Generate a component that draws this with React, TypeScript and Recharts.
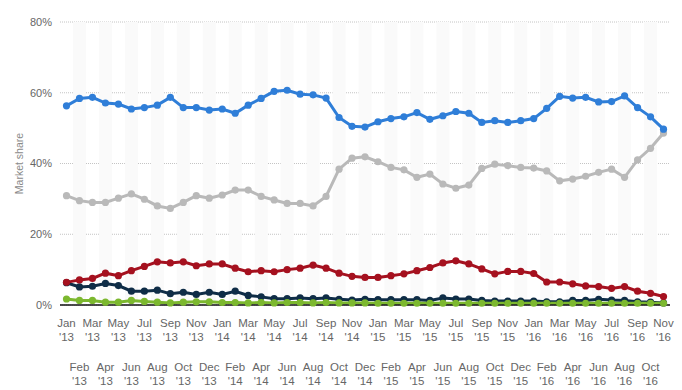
import React from "react";
import {
  ComposedChart,
  Line,
  Bar,
  XAxis,
  YAxis,
  CartesianGrid,
} from "recharts";

// Monate Jan '13 bis Nov '16
const MONATE = [
  "Jan '13", "Feb '13", "Mar '13", "Apr '13", "May '13", "Jun '13", "Jul '13", "Aug '13", "Sep '13", "Oct '13", "Nov '13", "Dec '13",
  "Jan '14", "Feb '14", "Mar '14", "Apr '14", "May '14", "Jun '14", "Jul '14", "Aug '14", "Sep '14", "Oct '14", "Nov '14", "Dec '14",
  "Jan '15", "Feb '15", "Mar '15", "Apr '15", "May '15", "Jun '15", "Jul '15", "Aug '15", "Sep '15", "Oct '15", "Nov '15", "Dec '15",
  "Jan '16", "Feb '16", "Mar '16", "Apr '16", "May '16", "Jun '16", "Jul '16", "Aug '16", "Sep '16", "Oct '16", "Nov '16",
];

const BLAU = [
  56.3, 58.4, 58.7, 57.1, 56.8, 55.4, 55.8, 56.5, 58.7, 55.8, 55.8, 55.1,
  55.4, 54.2, 56.5, 58.4, 60.4, 60.7, 59.6, 59.4, 58.5, 53.0, 50.5, 50.3,
  51.8, 52.7, 53.2, 54.4, 52.5, 53.5, 54.7, 54.2, 51.6, 52.1, 51.6, 52.1,
  52.7, 55.6, 59.0, 58.5, 58.7, 57.4, 57.5, 59.1, 55.8, 53.2, 49.7,
];

const GRAU = [
  30.9, 29.5, 29.0, 29.0, 30.2, 31.4, 29.9, 28.0, 27.3, 29.0, 30.9, 30.2,
  31.1, 32.5, 32.5, 30.7, 29.7, 28.7, 28.7, 28.0, 30.7, 38.4, 41.5, 41.9,
  40.5, 38.9, 38.2, 36.1, 37.0, 34.2, 33.0, 33.9, 38.6, 39.8, 39.4, 38.9,
  38.7, 37.9, 35.1, 35.6, 36.4, 37.5, 38.4, 36.1, 41.0, 44.3, 48.6,
];

const ROT = [
  6.4, 7.1, 7.5, 9.0, 8.3, 9.7, 10.9, 12.2, 11.9, 12.2, 11.1, 11.6,
  11.6, 10.4, 9.4, 9.7, 9.4, 10.0, 10.4, 11.3, 10.4, 9.0, 8.1, 7.8,
  7.8, 8.3, 8.8, 9.7, 10.6, 11.9, 12.5, 11.6, 10.2, 8.8, 9.5, 9.5,
  8.9, 6.5, 6.5, 6.0, 5.4, 5.2, 4.7, 5.2, 3.9, 3.3, 2.4,
];

const NAVY = [
  6.3, 5.1, 5.3, 6.1, 5.5, 3.9, 3.9, 4.2, 3.2, 3.6, 3.0, 3.6,
  3.0, 3.9, 2.7, 2.3, 1.8, 1.8, 2.0, 1.8, 2.0, 1.6, 1.4, 1.6,
  1.5, 1.5, 1.5, 1.5, 1.3, 2.0, 1.7, 1.7, 1.3, 1.1, 1.1, 1.1,
  1.1, 0.9, 0.9, 1.3, 1.3, 1.6, 1.4, 1.3, 0.9, 0.8, 0.6,
];

const GRUEN = [
  1.7, 1.3, 1.3, 0.8, 0.8, 1.3, 1.0, 0.8, 0.6, 0.8, 0.9, 0.9,
  0.7, 0.7, 0.6, 0.7, 0.6, 0.7, 0.7, 0.6, 0.7, 0.6, 0.6, 0.6,
  0.5, 0.5, 0.5, 0.5, 0.5, 0.5, 0.5, 0.5, 0.5, 0.5, 0.5, 0.5,
  0.5, 0.5, 0.5, 0.5, 0.5, 0.5, 0.5, 0.5, 0.5, 0.5, 0.5,
];

const Y_TICKS = [0, 20, 40, 60, 80];

// Streifen im Hintergrund: jeder zweite Monat
const data = MONATE.map((m, i) => ({
  monat: m,
  streifen: i % 2 === 1 ? 80 : 0,
  blau: BLAU[i],
  grau: GRAU[i],
  rot: ROT[i],
  navy: NAVY[i],
  gruen: GRUEN[i],
}));

const FONT = "'Liberation Sans', Arial, sans-serif";

const MonatTick = (props: any) => {
  const { x, y, payload, index } = props;
  const [mon, jahr] = String(payload.value).split(" ");
  const versatz = index % 2 === 1 ? 44 : 0;
  return (
    <g transform={`translate(${x},${y + versatz})`}>
      <text textAnchor="middle" fill="#666" fontSize={11.5} fontFamily={FONT}>
        <tspan x={0} dy={14}>{mon}</tspan>
        <tspan x={0} dy={14}>{jahr}</tspan>
      </text>
    </g>
  );
};

const AchsenTitel = (props: any) => {
  const vb = props.viewBox || { x: 0, y: 0, width: 0, height: 0 };
  const cx = vb.x + 19;
  const cy = vb.y + vb.height / 2;
  return (
    <text
      x={cx}
      y={cy}
      transform={`rotate(-90, ${cx}, ${cy})`}
      textAnchor="middle"
      dominantBaseline="central"
      fill="#8a8a8a"
      fontSize={10.5}
      fontFamily={FONT}
    >
      Market share
    </text>
  );
};

const linie = (key: string, farbe: string) => (
  <Line
    type="linear"
    dataKey={key}
    stroke={farbe}
    strokeWidth={3}
    dot={{ r: 3.6, fill: farbe, stroke: farbe, strokeWidth: 0 }}
    activeDot={false}
    isAnimationActive={false}
  />
);

export default function App() {
  return (
    <div style={{ position: "absolute", left: 0, top: 0, background: "#fff" }}>
      <ComposedChart
        width={682}
        height={390}
        data={data}
        margin={{ top: 22, right: 12, bottom: 5, left: 0 }}
        barCategoryGap={0}
      >
        <Bar dataKey="streifen" fill="#fafafa" isAnimationActive={false} />
        <CartesianGrid vertical={false} stroke="#c4c4c4" strokeDasharray="1 1" />
        <XAxis
          dataKey="monat"
          interval={0}
          tickLine={false}
          axisLine={{ stroke: "#111", strokeWidth: 1.5 }}
          tick={<MonatTick />}
          height={80}
        />
        <YAxis
          domain={[0, 80]}
          ticks={Y_TICKS}
          tickFormatter={(v: number) => `${v}%`}
          axisLine={false}
          tickLine={false}
          width={60}
          tick={{ fill: "#666", fontSize: 11, fontFamily: FONT }}
          label={<AchsenTitel />}
        />
        {linie("navy", "#0f2d47")}
        {linie("gruen", "#7cb82f")}
        {linie("rot", "#a5111f")}
        {linie("grau", "#b9b9b9")}
        {linie("blau", "#2f7ed8")}
      </ComposedChart>
    </div>
  );
}
